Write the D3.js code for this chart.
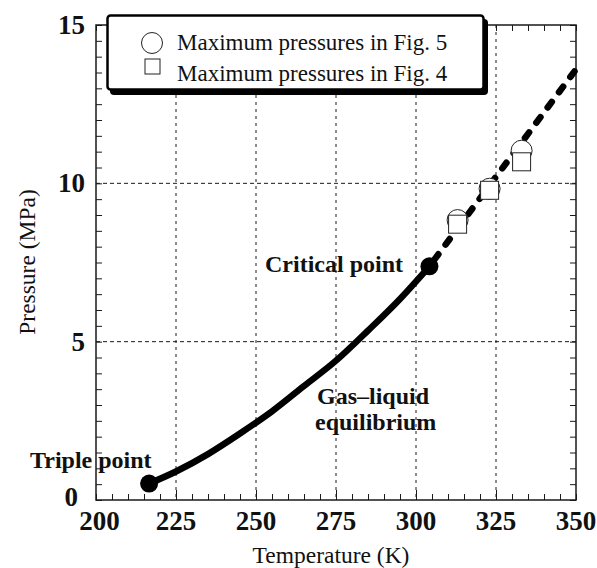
<!DOCTYPE html>
<html>
<head>
<meta charset="utf-8">
<script src="https://cdn.jsdelivr.net/npm/d3@7"></script>
<style>
  html, body { margin: 0; padding: 0; background: #fff; }
  svg { display: block; }
  text { font-family: "Liberation Serif", "DejaVu Serif", serif; fill: #111; }
</style>
</head>
<body>
<svg id="chart" width="597" height="568"></svg>
<script>
// CO2 gas–liquid coexistence curve (temperature K, pressure MPa)
const curveT = [216.6, 225, 235, 245, 255, 265, 275, 285, 295, 304.2];
const curveP = [0.52, 0.9, 1.45, 2.1, 2.8, 3.6, 4.4, 5.35, 6.35, 7.38];

// Extrapolated line beyond the critical point
const extT = [304.2, 350];
const extP = [7.38, 13.6];

// Special points
const pointNames = ["Triple point", "Critical point"];
const pointT = [216.6, 304.2];
const pointP = [0.52, 7.38];

// Measured maximum pressures
const fig5T = [313, 323, 333];
const fig5P = [8.84, 9.83, 11.03];
const fig4T = [313, 323, 333];
const fig4P = [8.71, 9.78, 10.68];

// Axis ticks
const xTicks = [200, 225, 250, 275, 300, 325, 350];
const yTicks = [0, 5, 10, 15];
const xGrid = [225, 250, 275, 300, 325];
const yGrid = [5, 10];

const legendLabels = ["Maximum pressures in Fig. 5", "Maximum pressures in Fig. 4"];

const svg = d3.select("#chart");
const m = { left: 96, right: 576, top: 25, bottom: 500 };

const x = d3.scaleLinear().domain([200, 350]).range([m.left, m.right]);
const y = d3.scaleLinear().domain([0, 15]).range([m.bottom, m.top]);

const ink = "#1a1a1a";

// grid
const grid = svg.append("g");
grid.selectAll("line.gx").data(xGrid).join("line")
  .attr("x1", d => x(d)).attr("x2", d => x(d))
  .attr("y1", m.top).attr("y2", m.bottom)
  .attr("stroke", ink).attr("stroke-width", 1).attr("stroke-dasharray", "3,4");
grid.selectAll("line.gy").data(yGrid).join("line")
  .attr("y1", d => y(d)).attr("y2", d => y(d))
  .attr("x1", m.left).attr("x2", m.right)
  .attr("stroke", ink).attr("stroke-width", 1).attr("stroke-dasharray", "4,3");

// axes with inward minor ticks
const minorX = d3.range(200, 350.01, 5);
const minorY = d3.range(0, 15.01, 0.5);
const axisStyle = g => {
  g.select(".domain").remove();
  g.selectAll(".tick line").attr("stroke", ink).attr("stroke-width", 1);
  g.selectAll(".tick text").remove();
};
svg.append("g").attr("transform", `translate(0,${m.bottom})`)
  .call(d3.axisBottom(x).tickValues(minorX).tickSizeInner(-6).tickSizeOuter(0)).call(axisStyle);
svg.append("g").attr("transform", `translate(0,${m.bottom})`)
  .call(d3.axisBottom(x).tickValues([225, 250, 275, 300, 325]).tickSizeInner(-10).tickSizeOuter(0)).call(axisStyle);
svg.append("g").attr("transform", `translate(0,${m.top})`)
  .call(d3.axisTop(x).tickValues(minorX).tickSizeInner(-6).tickSizeOuter(0)).call(axisStyle);
svg.append("g").attr("transform", `translate(${m.left},0)`)
  .call(d3.axisLeft(y).tickValues(minorY).tickSizeInner(-6).tickSizeOuter(0)).call(axisStyle);
svg.append("g").attr("transform", `translate(${m.right},0)`)
  .call(d3.axisRight(y).tickValues(minorY).tickSizeInner(-6).tickSizeOuter(0)).call(axisStyle);

svg.append("rect")
  .attr("x", m.left).attr("y", m.top)
  .attr("width", m.right - m.left).attr("height", m.bottom - m.top)
  .attr("fill", "none").attr("stroke", ink).attr("stroke-width", 1.5);

// tick labels
svg.append("g").selectAll("text").data(xTicks).join("text")
  .attr("x", d => x(d) + (d === 200 ? 3.5 : 0)).attr("y", 530)
  .attr("text-anchor", "middle")
  .attr("font-size", 27).attr("font-weight", "bold")
  .text(d => d);
svg.append("g").selectAll("text").data(yTicks).join("text")
  .attr("x", d => d === 0 ? 78 : 85).attr("y", d => y(d) + (d === 0 ? 6 : 9))
  .attr("text-anchor", "end")
  .attr("font-size", 27).attr("font-weight", "bold")
  .text(d => d);

// axis titles
svg.append("text").attr("x", 331).attr("y", 563)
  .attr("text-anchor", "middle").attr("font-size", 23.5)
  .text("Temperature (K)");
svg.append("text")
  .attr("transform", "translate(35,262) rotate(-90)")
  .attr("text-anchor", "middle").attr("font-size", 23.5)
  .text("Pressure (MPa)");

// coexistence curve
const curve = curveT.map((t, i) => [t, curveP[i]]);
const line = d3.line().x(d => x(d[0])).y(d => y(d[1])).curve(d3.curveMonotoneX);
svg.append("path").datum(curve)
  .attr("d", line)
  .attr("fill", "none").attr("stroke", "#000").attr("stroke-width", 6.5)
  .attr("stroke-linecap", "round");

// dashed extension
const ext = extT.map((t, i) => [t, extP[i]]);
svg.append("path").datum(ext)
  .attr("d", d3.line().x(d => x(d[0])).y(d => y(d[1])))
  .attr("fill", "none").attr("stroke", "#000").attr("stroke-width", 6.5)
  .attr("stroke-linecap", "round").attr("stroke-dasharray", "7,12")
  .attr("stroke-dashoffset", -8);

// triple and critical points
svg.append("g").selectAll("circle").data(pointT).join("circle")
  .attr("cx", d => x(d)).attr("cy", (d, i) => y(pointP[i]))
  .attr("r", 9).attr("fill", "#000");

// measured markers
svg.append("g").selectAll("circle").data(fig5T).join("circle")
  .attr("cx", d => x(d)).attr("cy", (d, i) => y(fig5P[i]))
  .attr("r", 10.5).attr("fill", "#fff").attr("stroke", "#222").attr("stroke-width", 1);
const sq = 18;
svg.append("g").selectAll("rect").data(fig4T).join("rect")
  .attr("x", d => x(d) - sq / 2).attr("y", (d, i) => y(fig4P[i]) - sq / 2)
  .attr("width", sq).attr("height", sq)
  .attr("fill", "#fff").attr("stroke", "#222").attr("stroke-width", 1);

// annotations
const ann = svg.append("g").attr("font-weight", "bold").attr("font-size", 24);
ann.append("text").attr("x", 30).attr("y", 468).text(pointNames[0]);
ann.append("text").attr("x", 265).attr("y", 272).text(pointNames[1]);
ann.append("text").attr("x", 317).attr("y", 404).text("Gas\u2013liquid");
ann.append("text").attr("x", 315).attr("y", 430).text("equilibrium");

// legend
const lg = svg.append("g");
lg.append("rect").attr("x", 110).attr("y", 19).attr("width", 378).attr("height", 76)
  .attr("rx", 4).attr("fill", "#000");
lg.append("rect").attr("x", 107.5).attr("y", 15.5).attr("width", 376).attr("height", 74)
  .attr("rx", 3).attr("fill", "#fff").attr("stroke", "#000").attr("stroke-width", 2.5);
lg.append("circle").attr("cx", 152).attr("cy", 43).attr("r", 10.5)
  .attr("fill", "#fff").attr("stroke", "#222").attr("stroke-width", 1);
lg.append("rect").attr("x", 145).attr("y", 59).attr("width", 15).attr("height", 15)
  .attr("fill", "#fff").attr("stroke", "#222").attr("stroke-width", 1);
lg.selectAll("text").data(legendLabels).join("text")
  .attr("x", 177).attr("y", (d, i) => 50 + i * 31)
  .attr("font-size", 23)
  .text(d => d);
</script>
</body>
</html>
